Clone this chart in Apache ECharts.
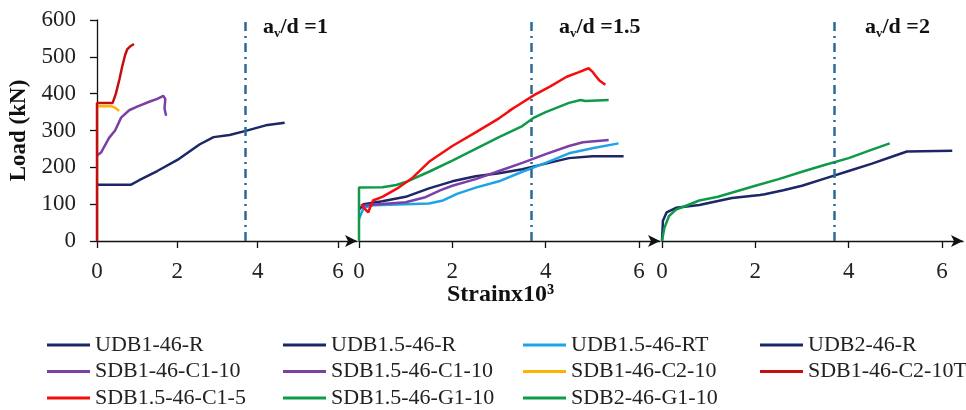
<!DOCTYPE html>
<html>
<head>
<meta charset="utf-8">
<script src="https://cdn.jsdelivr.net/npm/echarts@6/dist/echarts.min.js"></script>
<style>
  html, body { margin: 0; padding: 0; background: #fff; }
  #chart { width: 966px; height: 410px; }
</style>
</head>
<body>
<div id="chart"></div>
<script>
// load (kN) against strain x10^3, one panel for each a_v/d ratio
const xTicks = [0, 2, 4, 6];
const yTicks = [0, 100, 200, 300, 400, 500, 600];
const panelRatios = ['1', '1.5', '2'];
const avdStrain = 3.7;

// panel a_v/d = 1
const udb1R = [[0, 153], [0.85, 153], [1.05, 165], [1.5, 190], [2.0, 220], [2.55, 262], [2.9, 282], [3.3, 288], [3.7, 299], [4.2, 314], [4.67, 321]];
const sdb1C1 = [[0, 232], [0.1, 240], [0.3, 280], [0.45, 300], [0.6, 335], [0.8, 355], [1.0, 365], [1.3, 378], [1.5, 386], [1.65, 394], [1.7, 385], [1.68, 360], [1.72, 340]];
const sdb1C2 = [[0, 366], [0.35, 366], [0.45, 362], [0.52, 356], [0.55, 353]];
const sdb1C2T = [[0, 0], [0, 375], [0.39, 375], [0.47, 400], [0.56, 440], [0.63, 475], [0.7, 505], [0.75, 520], [0.82, 528], [0.92, 535]];

// panel a_v/d = 1.5
const udb15R = [[0, 85], [0.1, 100], [0.5, 108], [1.0, 120], [1.5, 143], [2.0, 162], [2.5, 176], [3.0, 184], [3.5, 195], [4.0, 210], [4.5, 225], [5.0, 230], [5.67, 230]];
const udb15RT = [[0, 60], [0.1, 90], [0.3, 97], [1.0, 100], [1.5, 102], [1.8, 110], [2.1, 128], [2.5, 145], [3.0, 162], [3.5, 188], [4.0, 212], [4.5, 238], [5.0, 252], [5.56, 265]];
const sdb15C1 = [[0.05, 95], [0.2, 98], [1.0, 105], [1.4, 118], [1.75, 138], [2.0, 150], [2.5, 168], [3.0, 190], [3.5, 212], [4.0, 236], [4.5, 258], [4.8, 268], [5.35, 274]];
const sdb15C15 = [[0.05, 100], [0.1, 90], [0.2, 78], [0.25, 95], [0.3, 110], [0.5, 120], [0.85, 145], [1.15, 172], [1.5, 215], [2.0, 258], [2.5, 295], [3.0, 333], [3.3, 360], [3.2, 352], [3.4, 368], [3.75, 396], [4.1, 420], [4.45, 446], [4.7, 458], [4.92, 469], [5.0, 460], [5.06, 450], [5.15, 436], [5.28, 424]];
const sdb15G1 = [[0, 0], [0, 145], [0.5, 146], [0.8, 152], [1.0, 160], [1.5, 188], [2.0, 218], [2.5, 250], [3.0, 282], [3.5, 312], [3.75, 335], [4.0, 350], [4.5, 375], [4.75, 383], [4.85, 380], [5.35, 383]];

// panel a_v/d = 2
const udb2R = [[0, 0], [0.02, 55], [0.1, 78], [0.3, 90], [0.8, 98], [1.5, 117], [2.1, 125], [2.2, 127], [2.6, 138], [3.0, 150], [3.5, 170], [4.0, 190], [4.5, 210], [5.0, 232], [5.25, 243], [6.22, 245]];
const sdb2G1 = [[0, 0], [0.05, 35], [0.15, 68], [0.3, 85], [0.5, 95], [0.8, 110], [1.2, 120], [1.6, 135], [2.0, 150], [2.5, 168], [3.0, 188], [3.5, 207], [4.0, 225], [4.5, 248], [4.88, 265]];

const legendColumns = [
  ['UDB1-46-R', 'SDB1-46-C1-10', 'SDB1.5-46-C1-5'],
  ['UDB1.5-46-R', 'SDB1.5-46-C1-10', 'SDB1.5-46-G1-10'],
  ['UDB1.5-46-RT', 'SDB1-46-C2-10', 'SDB2-46-G1-10'],
  ['UDB2-46-R', 'SDB1-46-C2-10T']
];

const NAVY = '#1b2766';
const PURPLE = '#7c3fa6';
const CYAN = '#1ea3e6';
const ORANGE = '#ffb300';
const DARKRED = '#c40f0f';
const RED = '#f50d0d';
const GREEN = '#0f9a4a';
const SERIF = 'Liberation Serif';

const chart = echarts.init(document.getElementById('chart'));

const panels = [
  { left: 97, width: 260, max: 6.47 },
  { left: 359, width: 301, max: 6.45 },
  { left: 662, width: 301, max: 6.45 }
];

const lineSeries = (name, data, color, panel, withMark) => {
  const s = {
    name, type: 'line', data, xAxisIndex: panel, yAxisIndex: panel,
    symbol: 'none', smooth: false, color,
    lineStyle: { color, width: 2.5 }, z: 3
  };
  if (withMark) {
    s.markLine = {
      silent: true, symbol: 'none', label: { show: false },
      lineStyle: { color: '#2b6a9b', width: 2.5, type: [9, 5, 2, 5] },
      data: [{ xAxis: avdStrain }]
    };
  }
  return s;
};

const ratioText = (ratio, left) => ({
  type: 'text', left, top: 16,
  style: {
    text: '{m|a}{s|v}{m|/d =' + ratio + '}',
    rich: {
      m: { fontFamily: SERIF, fontWeight: 'bold', fontSize: 22, fill: '#111', lineHeight: 26 },
      s: { fontFamily: SERIF, fontWeight: 'bold', fontSize: 13, fill: '#111', lineHeight: 26, verticalAlign: 'bottom' }
    }
  }
});

chart.setOption({
  animation: false,
  grid: panels.map((p) => ({ left: p.left, width: p.width, top: 20, height: 221 })),
  xAxis: panels.map((p, i) => ({
    type: 'value', gridIndex: i, min: 0, max: p.max,
    axisLine: { show: true, symbol: ['none', 'arrow'], symbolSize: [9, 12], lineStyle: { color: '#111', width: 1.3 } },
    axisTick: { show: true, length: 7, customValues: xTicks, lineStyle: { color: '#111', width: 1.3 } },
    axisLabel: { customValues: xTicks, margin: 19, fontFamily: SERIF, fontSize: 23, color: '#222' },
    splitLine: { show: false }
  })),
  yAxis: panels.map((p, i) => ({
    type: 'value', gridIndex: i, min: 0, max: 600, interval: 100, show: i === 0,
    name: i === 0 ? 'Load (kN)' : '', nameLocation: 'middle', nameGap: 66,
    nameTextStyle: { fontFamily: SERIF, fontWeight: 'bold', fontSize: 23, color: '#111' },
    axisLine: { show: true, lineStyle: { color: '#111', width: 1.3 } },
    axisTick: { show: true, length: 7, lineStyle: { color: '#111', width: 1.3 } },
    axisLabel: { margin: 21, fontFamily: SERIF, fontSize: 23, color: '#222' },
    splitLine: { show: false }
  })),
  legend: legendColumns.map((col, i) => ({
    data: col, orient: 'vertical', left: [47, 283, 523, 760][i], top: 334, height: 120, padding: 0,
    icon: 'rect', itemWidth: 43, itemHeight: 3, itemGap: 4.5,
    textStyle: { fontFamily: SERIF, fontSize: 22, color: '#222', lineHeight: 22 },
    selectedMode: false
  })),
  graphic: [
    ratioText(panelRatios[0], 263),
    ratioText(panelRatios[1], 559),
    ratioText(panelRatios[2], 865),
    {
      type: 'text', left: 447, top: 283,
      style: { text: 'Strainx10³', fontFamily: SERIF, fontWeight: 'bold', fontSize: 24, fill: '#111' }
    }
  ],
  series: [
    lineSeries('UDB1-46-R', udb1R, NAVY, 0, true),
    lineSeries('SDB1-46-C1-10', sdb1C1, PURPLE, 0),
    lineSeries('SDB1-46-C2-10', sdb1C2, ORANGE, 0),
    lineSeries('SDB1-46-C2-10T', sdb1C2T, DARKRED, 0),
    lineSeries('UDB1.5-46-R', udb15R, NAVY, 1, true),
    lineSeries('UDB1.5-46-RT', udb15RT, CYAN, 1),
    lineSeries('SDB1.5-46-C1-10', sdb15C1, PURPLE, 1),
    lineSeries('SDB1.5-46-G1-10', sdb15G1, GREEN, 1),
    lineSeries('SDB1.5-46-C1-5', sdb15C15, RED, 1),
    lineSeries('UDB2-46-R', udb2R, NAVY, 2, true),
    lineSeries('SDB2-46-G1-10', sdb2G1, GREEN, 2)
  ]
});
</script>
</body>
</html>
